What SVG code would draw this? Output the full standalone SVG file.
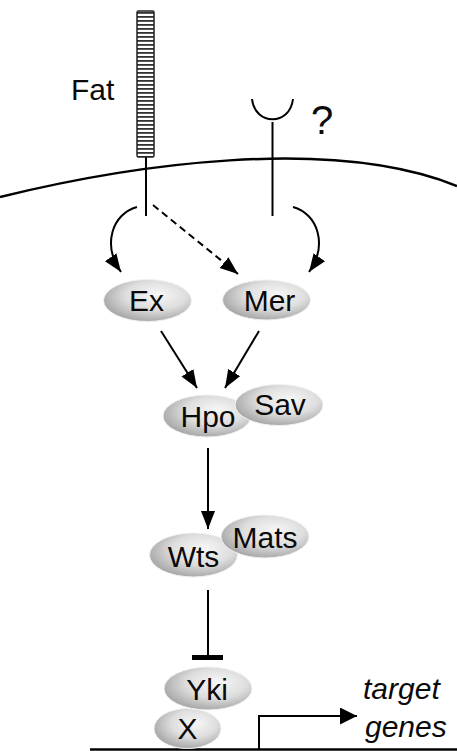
<svg xmlns="http://www.w3.org/2000/svg" width="457" height="751" viewBox="0 0 457 751">
<defs>
<radialGradient id="g" cx="0.58" cy="0.4" r="0.62" fx="0.62" fy="0.35">
<stop offset="0" stop-color="#f7f7f7"/>
<stop offset="0.55" stop-color="#dedede"/>
<stop offset="1" stop-color="#a6a6a6"/>
</radialGradient>
<pattern id="stripes" patternUnits="userSpaceOnUse" x="0" y="12" width="20" height="4">
<rect width="20" height="4" fill="#ffffff"/>
<rect width="20" height="1.8" fill="#333"/>
</pattern>
<marker id="ah" markerUnits="userSpaceOnUse" markerWidth="19" markerHeight="15" refX="18" refY="7" orient="auto">
<path d="M0,0 L18,7 L0,14 z" fill="#000"/>
</marker>
<marker id="ahb" markerUnits="userSpaceOnUse" markerWidth="18" markerHeight="18" refX="17" refY="8.5" orient="auto">
<path d="M0,0 L17,8.5 L0,17 z" fill="#000"/>
</marker>
</defs>
<style>
.node ellipse{fill:url(#g);stroke:#f2f2f2;stroke-width:1}
.lbl{font-family:"Liberation Sans",Arial,sans-serif;font-size:30px;fill:#0a0a0a;text-anchor:middle}
.free{font-family:"Liberation Sans",Arial,sans-serif;font-size:30px;fill:#0a0a0a}
.ln{fill:none;stroke:#000;stroke-width:2}
</style>
<rect width="457" height="751" fill="#ffffff"/>

<!-- membrane -->
<path id="membrane" d="M0,197 C130,165 330,135 457,186" fill="none" stroke="#000" stroke-width="2.5"/>

<!-- Fat receptor -->
<g id="fat">
<line x1="146" y1="156" x2="146" y2="216" stroke="#000" stroke-width="2"/>
<rect x="137" y="11" width="17" height="146" rx="1.5" fill="url(#stripes)" stroke="#222" stroke-width="1.5"/>
<text class="free" x="71" y="99.5">Fat</text>
</g>

<!-- unknown receptor -->
<g id="receptor">
<path d="M252,99 C255,126 290,126 293,99" fill="none" stroke="#000" stroke-width="2"/>
<line x1="272.5" y1="122" x2="272.5" y2="216" stroke="#000" stroke-width="2"/>
<text x="311" y="133.5" font-family="Liberation Sans, Arial, sans-serif" font-size="40" fill="#0a0a0a">?</text>
</g>

<!-- connectors -->
<g id="connectors">
<path class="ln" d="M137,207 C112,214 102,245 121,272" marker-end="url(#ah)"/>
<path class="ln" d="M293,207 C318,214 328,245 309,272" marker-end="url(#ah)"/>
<line class="ln" x1="153" y1="205" x2="238" y2="274" stroke-dasharray="7,4.5" marker-end="url(#ah)"/>
<line class="ln" x1="161" y1="331" x2="197" y2="388" marker-end="url(#ah)"/>
<line class="ln" x1="259" y1="331" x2="225" y2="388" marker-end="url(#ah)"/>
<line class="ln" x1="208" y1="448" x2="208" y2="529" marker-end="url(#ah)"/>
<line class="ln" x1="208" y1="590" x2="208" y2="656"/>
<rect x="192" y="655" width="31" height="5" fill="#000"/>
<line x1="90" y1="749.5" x2="457" y2="749.5" stroke="#000" stroke-width="2.5"/>
<path class="ln" d="M259,749 V716 H357" marker-end="url(#ahb)"/>
</g>

<g id="Ex" class="node"><ellipse cx="147.5" cy="300.5" rx="44" ry="21"/><text class="lbl" x="146.5" y="311">Ex</text></g>
<g id="Mer" class="node"><ellipse cx="266.5" cy="300" rx="44" ry="20"/><text class="lbl" x="269.5" y="311">Mer</text></g>
<g id="Hpo" class="node"><ellipse cx="207" cy="416" rx="44" ry="21"/><text class="lbl" x="208" y="426.5">Hpo</text></g>
<g id="Sav" class="node"><ellipse cx="279" cy="405" rx="44" ry="20.5"/><text class="lbl" x="280" y="414.5">Sav</text></g>
<g id="Wts" class="node"><ellipse cx="193.5" cy="555" rx="44" ry="22"/><text class="lbl" x="193.5" y="566.5">Wts</text></g>
<g id="Mats" class="node"><ellipse cx="265" cy="536.5" rx="44" ry="21.5"/><text class="lbl" x="265" y="547.5">Mats</text></g>
<g id="X" class="node"><ellipse cx="187.5" cy="728.5" rx="33.5" ry="20"/><text class="lbl" x="187.5" y="739">X</text></g>
<g id="Yki" class="node"><ellipse cx="208" cy="688.5" rx="44" ry="21.5"/><text class="lbl" x="207" y="699.5">Yki</text></g>

<g id="target">
<text class="free" x="363" y="699" font-style="italic">target</text>
<text class="free" x="365" y="737" font-style="italic">genes</text>
</g>
</svg>
